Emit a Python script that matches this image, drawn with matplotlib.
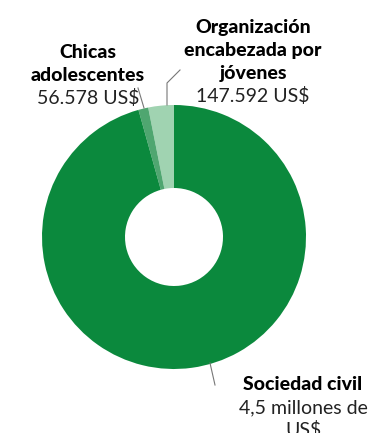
import numpy as np
import matplotlib.pyplot as plt

# datos
etiquetas = ['Organización\nencabezada por\njóvenes', 'Chicas\nadolescentes', 'Sociedad civil']
valores = [147592, 56578, 4500000]
textos_valor = ['147.592 US$', '56.578 US$', '4,5 millones de\nUS$']
colores = ['#a0d3b1', '#4fa670', '#0b893d']

W, H = 370, 433
fig = plt.figure(figsize=(W / 100, H / 100), dpi=100)
ax = fig.add_axes([0, 0, 1, 1])

cx, cy = 174, H - 237
r_out, r_in = 132, 49
ax.pie(valores, colors=colores, radius=r_out, center=(cx, cy),
       startangle=90, counterclock=True,
       wedgeprops=dict(width=r_out - r_in, linewidth=0))
ax.set_xlim(0, W)
ax.set_ylim(0, H)
ax.set_aspect('equal')
ax.axis('off')

def y(p):
    return H - p

bold = dict(family='Lato', weight='black', fontsize=14, color='black', ha='center', va='center')
norm = dict(family='Lato', weight='normal', fontsize=14, color='#222222', ha='center', va='center')

def bloque(x, y0, titulo, valor):
    lineas = [(l, bold) for l in titulo.split('\n')] + [(l, norm) for l in valor.split('\n')]
    for i, (l, st) in enumerate(lineas):
        ax.text(x, y(y0 + 22.5 * i), l, **st)

# Organización
bloque(253, 28, etiquetas[0], textos_valor[0])
ax.plot([180, 167, 167], [y(70), y(83), y(105)], color='#777777', lw=0.8)

# Chicas
bloque(88, 53, etiquetas[1], textos_valor[1])
ax.plot([138, 144], [y(88), y(108)], color='#777777', lw=0.8)

# Sociedad civil
bloque(303, 385, etiquetas[2], textos_valor[2])
ax.plot([210, 215], [y(363), y(385)], color='#777777', lw=0.8)

fig.savefig('out.png', dpi=100)
